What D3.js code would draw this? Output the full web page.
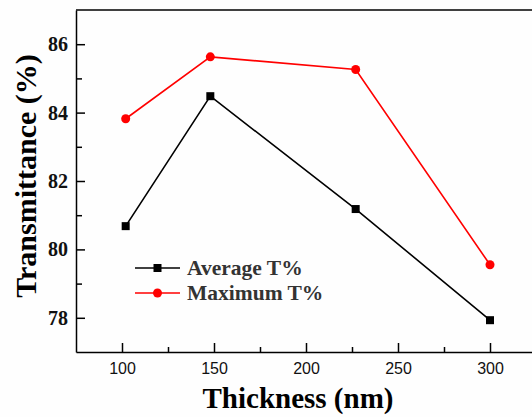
<!DOCTYPE html>
<html>
<head>
<meta charset="utf-8">
<script src="https://cdn.jsdelivr.net/npm/d3@7"></script>
<style>
  html, body { margin: 0; padding: 0; background: #fefefe; }
  svg { display: block; }
  .serif { font-family: "Liberation Serif", "Times New Roman", Times, serif; font-weight: bold; }
  .sans { font-family: "Liberation Sans", Arial, Helvetica, sans-serif; }
</style>
</head>
<body>
<svg id="chart" width="532" height="417"></svg>
<script>
// Film thickness (nm) and transmittance values
const thickness = [102, 148, 227, 300];
const averageT = [80.68, 84.48, 81.18, 77.93];
const maximumT = [83.82, 85.63, 85.26, 79.55];

const xMajorTicks = [100, 150, 200, 250, 300];
const xMinorTicks = [125, 175, 225, 275];
const yMajorTicks = [78, 80, 82, 84, 86];
const yMinorTicks = [79, 81, 83, 85];

const seriesNames = ["Average T%", "Maximum T%"];
const seriesColors = ["#000000", "#ff0000"];

const svg = d3.select("#chart");
const plot = { left: 76, right: 536, top: 10, bottom: 352 };

const x = d3.scaleLinear().domain([75, 325]).range([plot.left, plot.right]);
const y = d3.scaleLinear().domain([77, 87]).range([plot.bottom, plot.top]);

// Bottom axis with inward ticks
const xAxis = svg.append("g")
  .attr("transform", `translate(0,${plot.bottom})`)
  .call(d3.axisBottom(x).tickValues(xMajorTicks).tickSizeInner(-9).tickSizeOuter(0).tickPadding(11));
xAxis.attr("font-family", null);
xAxis.selectAll("text")
  .attr("class", "sans")
  .attr("font-size", 16).attr("fill", "#111");

svg.append("g")
  .attr("transform", `translate(0,${plot.bottom})`)
  .call(d3.axisBottom(x).tickValues(xMinorTicks).tickSizeInner(-5).tickSizeOuter(0).tickFormat(""))
  .select(".domain").remove();

// Left axis with inward ticks
const yAxis = svg.append("g")
  .attr("transform", `translate(${plot.left},0)`)
  .call(d3.axisLeft(y).tickValues(yMajorTicks).tickSizeInner(-9).tickSizeOuter(0).tickPadding(8));
yAxis.attr("font-family", null);
yAxis.selectAll("text")
  .attr("class", "serif")
  .attr("font-size", 20).attr("fill", "#111");

svg.append("g")
  .attr("transform", `translate(${plot.left},0)`)
  .call(d3.axisLeft(y).tickValues(yMinorTicks).tickSizeInner(-6).tickSizeOuter(0).tickFormat(""))
  .select(".domain").remove();

svg.selectAll(".domain, .tick line").attr("stroke", "#000").attr("stroke-width", 1.5);

// Top frame line
svg.append("line")
  .attr("x1", plot.left).attr("x2", plot.right)
  .attr("y1", plot.top).attr("y2", plot.top)
  .attr("stroke", "#000").attr("stroke-width", 1.5);

// Series lines
const line = d3.line().x((d, i) => x(thickness[i])).y(d => y(d));
[averageT, maximumT].forEach((vals, s) => {
  svg.append("path")
    .datum(vals)
    .attr("d", line)
    .attr("fill", "none")
    .attr("stroke", seriesColors[s])
    .attr("stroke-width", 1.6);
});

// Markers
svg.selectAll(".sq").data(averageT).enter().append("rect")
  .attr("x", (d, i) => x(thickness[i]) - 4)
  .attr("y", d => y(d) - 4)
  .attr("width", 8).attr("height", 8)
  .attr("fill", seriesColors[0]);

svg.selectAll(".dot").data(maximumT).enter().append("circle")
  .attr("cx", (d, i) => x(thickness[i]))
  .attr("cy", d => y(d))
  .attr("r", 4.5)
  .attr("fill", seriesColors[1]);

// Legend
const legendRows = [268, 293];
seriesNames.forEach((name, s) => {
  const g = svg.append("g").attr("transform", `translate(135,${legendRows[s]})`);
  g.append("line").attr("x1", 0).attr("x2", 45).attr("y1", 0).attr("y2", 0)
    .attr("stroke", seriesColors[s]).attr("stroke-width", 1.6);
  if (s === 0) {
    g.append("rect").attr("x", 18.5).attr("y", -4).attr("width", 8).attr("height", 8).attr("fill", seriesColors[s]);
  } else {
    g.append("circle").attr("cx", 22.5).attr("cy", 0).attr("r", 4.5).attr("fill", seriesColors[s]);
  }
  g.append("text").attr("x", 52).attr("y", 7)
    .attr("class", "serif")
    .attr("font-size", 21.5).attr("fill", "#333")
    .text(name);
});

// Axis titles
svg.append("text")
  .attr("x", 298).attr("y", 408)
  .attr("text-anchor", "middle")
  .attr("class", "serif")
  .attr("font-size", 29).attr("fill", "#000")
  .text("Thickness (nm)");

svg.append("text")
  .attr("transform", "translate(36,176) rotate(-90)")
  .attr("text-anchor", "middle")
  .attr("class", "serif")
  .attr("font-size", 30).attr("fill", "#000")
  .text("Transmittance (%)");
</script>
</body>
</html>
